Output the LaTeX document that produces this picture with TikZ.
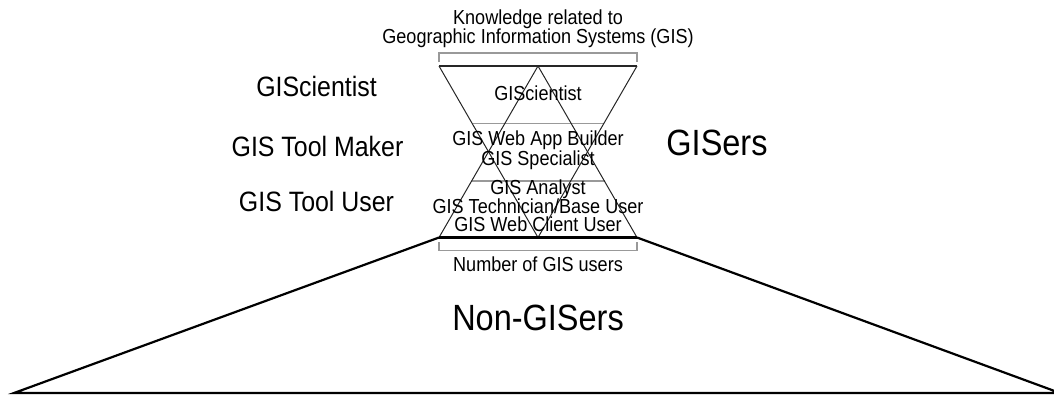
\documentclass[tikz,border=0pt]{standalone}
\usepackage{fontspec}
\setmainfont[FakeStretch=0.89]{Liberation Sans}
\begin{document}
\begin{tikzpicture}[x=1pt,y=-1pt,
  small/.style={font=\fontsize{20.3}{20}\selectfont,inner sep=0pt,anchor=base},
  role/.style={font=\fontsize{28}{30}\selectfont,inner sep=0pt,anchor=base},
  big/.style={font=\fontsize{36.5}{38}\selectfont,inner sep=0pt,anchor=base},
  thinline/.style={draw=black!85,line width=1pt},
  rimline/.style={draw=black!85,line width=1.4pt},
  grayline/.style={draw=black!40,line width=1.4pt},
  heavyline/.style={draw=black,line width=2.2pt,line join=miter}]
\useasboundingbox (0,0) rectangle (1054,394);
\clip (0,0) rectangle (1054,394);
% corners
\coordinate (TL) at (439,66);
\coordinate (TR) at (637,66);
\coordinate (TM) at (538,66);
\coordinate (BL) at (439,237.5);
\coordinate (BR) at (637,237.5);
\coordinate (BM) at (538,237.5);
\coordinate (FL) at (14,393);
\coordinate (FR) at (1060,393);
% brackets
\coordinate (ka) at (439,62);
\coordinate (kb) at (439,53);
\coordinate (kc) at (637,53);
\coordinate (kd) at (637,62);
\coordinate (na) at (439,242);
\coordinate (nb) at (439,250.5);
\coordinate (nc) at (637,250.5);
\coordinate (nd) at (637,242);
\draw[grayline] (ka) -- (kb) -- (kc) -- (kd);
\draw[grayline] (na) -- (nb) -- (nc) -- (nd);
% dividers
\coordinate (d1a) at (472.5,123.3);
\coordinate (d1b) at (603.5,123.3);
\coordinate (d2a) at (471.5,181);
\coordinate (d2b) at (604.5,181);
\draw[grayline] (d1a) -- (d1b);
\draw[grayline] (d2a) -- (d2b);
% hourglass
\draw[thinline] (TL) -- (BM) -- (TR);
\draw[thinline] (BL) -- (TM) -- (BR);
\draw[rimline] (TL) -- (TR);
% non-GISers trapezoid
\draw[heavyline] (BL) -- (FL) -- (FR) -- (BR);
\draw[heavyline] (BL) -- (BR);
% texts
\node[small] (k1) at (538,24.8) {Knowledge related to};
\node[small] (k2) at (538,43.6) {Geographic Information Systems (GIS)};
\node[small] (i1) at (538,100.7) {GIScientist};
\node[small] (i2) at (538,145.5) {GIS Web App Builder};
\node[small] (i3) at (538,165.5) {GIS Specialist};
\node[small] (i4) at (538,194) {GIS Analyst};
\node[small] (i5) at (538,213) {GIS Technician/Base User};
\node[small] (i6) at (538,231.5) {GIS Web Client User};
\node[small] (nu) at (538,271.7) {Number of GIS users};
\node[role] (r1) at (316.5,96) {GIScientist};
\node[role] (r2) at (317.5,156.7) {GIS Tool Maker};
\node[role] (r3) at (316.5,211.7) {GIS Tool User};
\node[big] (gs) at (717,155) {GISers};
\node[big] (ng) at (538,330) {Non-GISers};
\end{tikzpicture}
\end{document}
